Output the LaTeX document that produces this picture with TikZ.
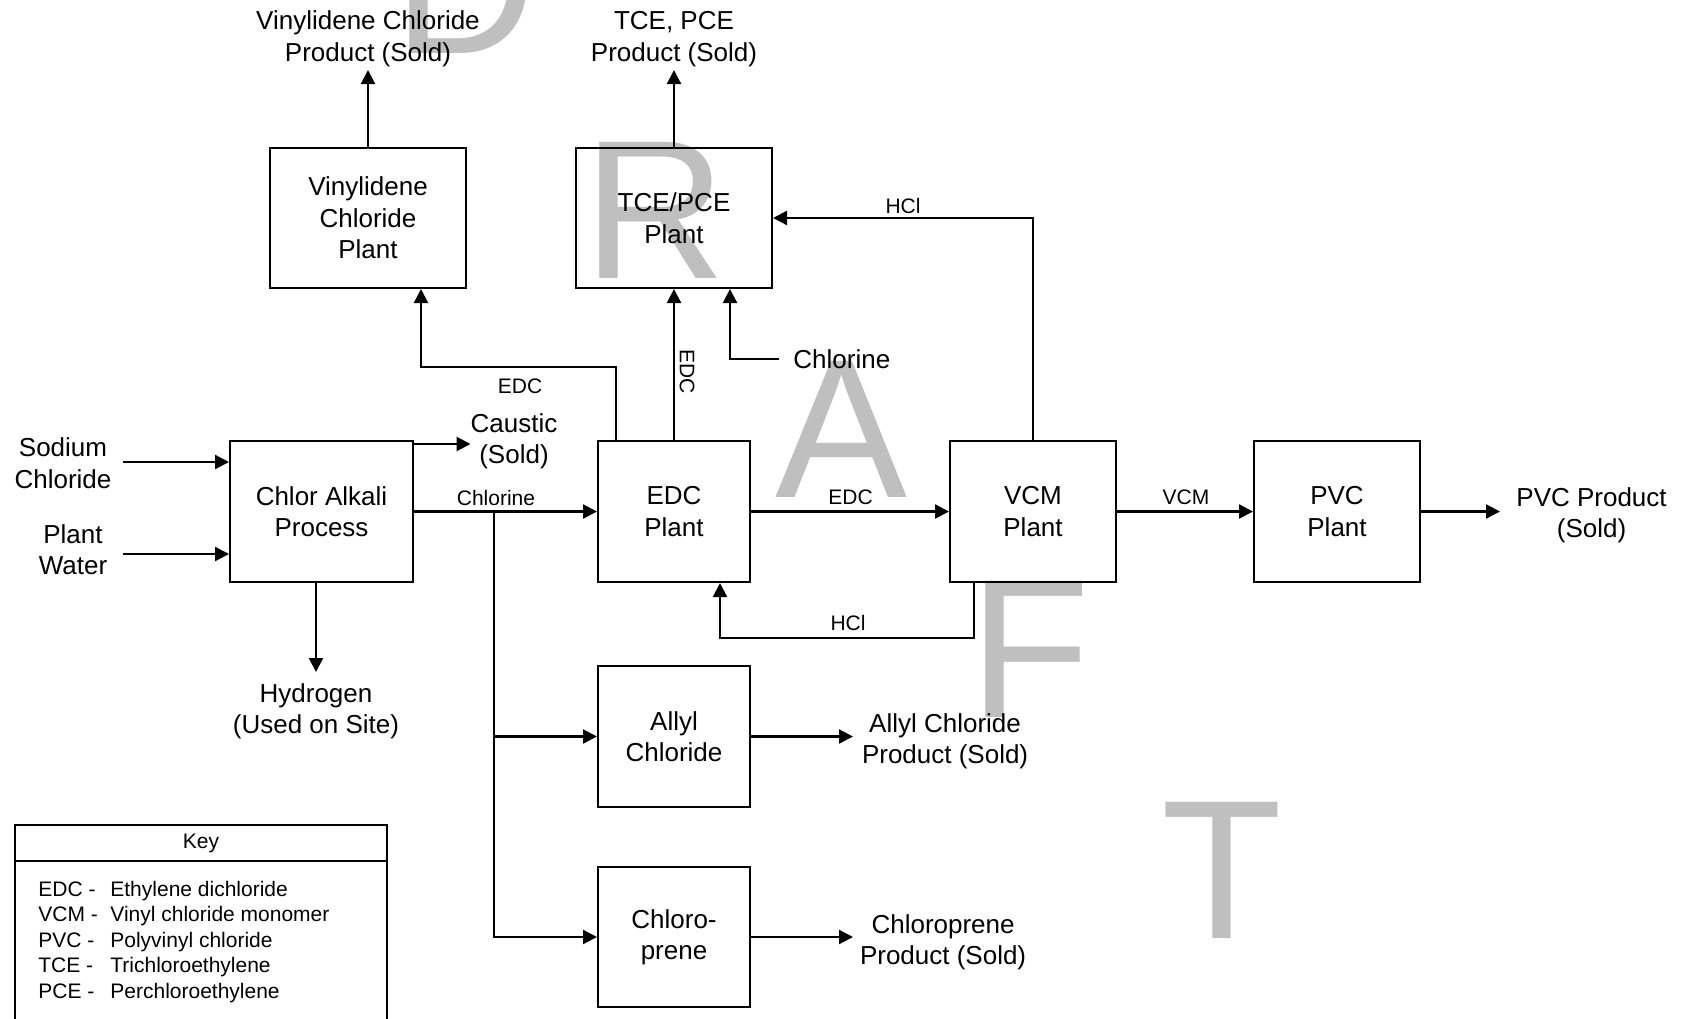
\documentclass[tikz,border=0pt]{standalone}
\usepackage{fontspec}
\setmainfont{Liberation Sans}
\usetikzlibrary{arrows.meta,calc}
\definecolor{wmgray}{RGB}{191,191,191}

\begin{document}
\begin{tikzpicture}[x=0.5pt,y=-0.5pt,
  box/.style={draw, line width=1pt, align=center, inner sep=0pt,
    font=\fontsize{13}{15.7}\selectfont},
  big/.style={align=center, font=\fontsize{13}{15.7}\selectfont},
  small/.style={font=\fontsize{10.5}{12.75}\selectfont, inner sep=0pt},
  arr/.style={-{Triangle[length=7pt,width=7pt]}, line width=1.1pt},
  keypart/.style={draw, line width=0.9pt, minimum width=186pt, anchor=north west,
    inner sep=0pt, outer sep=0pt, font=\fontsize{10.5}{12.75}\selectfont},
  wm/.style={text=wmgray, font=\fontsize{99}{99}\selectfont, inner sep=0pt, anchor=base}]

\useasboundingbox (0,0) rectangle (1684,1018);

% DRAFT watermark, behind everything else
\node[wm] (wmD) at (465,53) {D};
\node[wm] (wmR) at (655,278) {R};
\node[wm] (wmA) at (842,497) {A};
\node[wm] (wmF) at (1030,717) {F};
\node[wm] (wmT) at (1221.5,938) {T};

% process units
\node[box, minimum width=98pt, minimum height=70pt]   (vdc)   at (368,218)     {Vinylidene\\Chloride\\Plant};
\node[box, minimum width=98pt, minimum height=70pt]   (tce)   at (674,218)     {TCE/PCE\\Plant};
\node[box, minimum width=91.5pt, minimum height=70.5pt] (ca)  at (321.5,511.5) {Chlor Alkali\\Process};
\node[box, minimum width=76pt, minimum height=70.5pt] (edc)   at (674,511.5)   {EDC\\Plant};
\node[box, minimum width=83pt, minimum height=70.5pt] (vcm)   at (1033,511.5)  {VCM\\Plant};
\node[box, minimum width=83pt, minimum height=70.5pt] (pvc)   at (1337,511.5)  {PVC\\Plant};
\node[box, minimum width=76pt, minimum height=70.5pt] (allyl) at (674,736.5)   {Allyl\\Chloride};
\node[box, minimum width=76pt, minimum height=70pt]   (chp)   at (674,937)     {Chloro-\\prene};

% feeds and products
\node[big, anchor=south, inner sep=1.5pt] (vdcp) at (368,70) {Vinylidene Chloride\\Product (Sold)};
\node[big, anchor=south, inner sep=1.5pt] (tcep) at (674,70) {TCE, PCE\\Product (Sold)};
\node[big] (nacl)  at (63,463)   {Sodium\\Chloride};
\node[big] (water) at (73,549.5) {Plant\\Water};
\node[big] (caus)  at (514,441)  {Caustic\\(Sold)};
\node[big, anchor=north, inner sep=0pt] (h2) at (316,683) {Hydrogen\\(Used on Site)};
\node[big, anchor=west, inner xsep=7pt] (cltce) at (779,359) {Chlorine};
\node[big, anchor=west, inner xsep=8pt] (pvcp) at (1500,515.5) {PVC Product\\(Sold)};
\node[big, anchor=west, inner xsep=4.3pt] (allylp) at (853,741.5) {Allyl Chloride\\Product (Sold)};
\node[big, anchor=west, inner xsep=3.3pt] (chpp) at (853,942) {Chloroprene\\Product (Sold)};

\coordinate (naclout)  at (123,462);
\coordinate (waterout) at (123,554);
\coordinate (causin)   at (470.5,444);
\coordinate (split)    at (494,511.5);

% raw materials into the chlor-alkali process
\draw[arr] (naclout) -- (naclout -| ca.west);
\draw[arr] (waterout) -- (waterout -| ca.west);
\draw[arr] (ca.north east |- causin) -- (causin);
\draw[arr, shorten >=5.5pt] (ca.south -| h2.north) -- (h2.north);

% chlorine distribution
\draw[arr] (ca.east) -- (edc.west);
\node[small] (lblcl) at (496,497.5) {Chlorine};
\draw[arr] (split) |- (chp.west);
\draw[arr] (split |- allyl.west) -- (allyl.west);

% main EDC / VCM / PVC train
\draw[arr] (edc.east) -- (vcm.west);
\node[small] (lbledc2) at (850.5,497.5) {EDC};
\draw[arr] (vcm.east) -- (pvc.west);
\node[small] (lblvcm) at (1186,497.5) {VCM};
\draw[arr] (pvc.east) -- (pvc.east -| pvcp.west);

% HCl recycle to the EDC plant
\draw[arr] ($(vcm.south west)+(25,0)$) -- ++(0,55) -| ($(edc.south west)+(123,0)$);
\node[small] (lblhcl1) at (848,623) {HCl};

% EDC to the vinylidene chloride plant
\draw[arr] ($(edc.north west)+(19,0)$) -- ++(0,-73) -| ($(vdc.south west)+(152,0)$);
\node[small] (lbledc1) at (520,386) {EDC};

% feeds into the TCE/PCE plant
\draw[arr] (edc.north) -- (tce.south);
\node[small, rotate=-90] (lbledc3) at (687,371.5) {EDC};
\draw[arr] (cltce.west) -| ($(tce.south west)+(155,0)$);
\draw[arr] (vcm.north) |- (tce.east);
\node[small] (lblhcl2) at (903,206) {HCl};

% products
\draw[arr] (vdc.north) -- (vdcp.south);
\draw[arr] (tce.north) -- (tcep.south);
\draw[arr] (allyl.east) -- (allyl.east -| allylp.west);
\draw[arr] (chp.east) -- (chp.east -| chpp.west);

% key
\node[keypart, minimum height=18pt] (keyhead) at (15,825) {Key};
\node[keypart, minimum height=95pt] (keybody) at (keyhead.south west) {};
\foreach \ab/\df [count=\i] in {EDC -/Ethylene dichloride, VCM -/Vinyl chloride monomer,
    PVC -/Polyvinyl chloride, TCE -/Trichloroethylene, PCE -/Perchloroethylene} {
  \node[small, anchor=base west] (ka\i) at (38,{896+25.5*(\i-1)}) {\ab};
  \node[small, anchor=base west] (kd\i) at (110,{896+25.5*(\i-1)}) {\df};
}
\end{tikzpicture}
\end{document}
